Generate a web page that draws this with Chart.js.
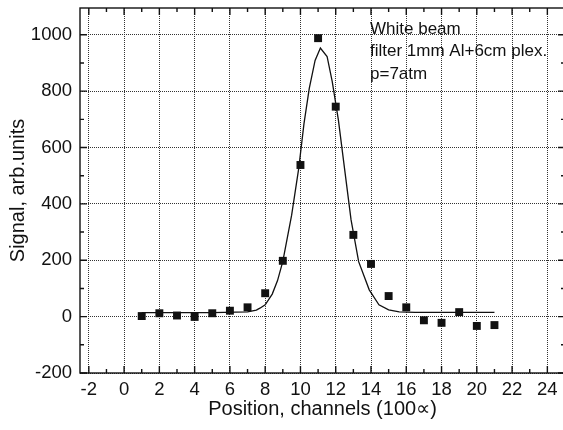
<!DOCTYPE html>
<html>
<head>
<meta charset="utf-8">
<script src="https://cdn.jsdelivr.net/npm/chart.js@4.4.1/dist/chart.umd.min.js"></script>
<style>
  html, body { margin: 0; padding: 0; background: #fff; overflow: hidden; width: 563px; height: 430px; }
  canvas { display: block; }
</style>
</head>
<body>
<canvas id="signalChart" width="565" height="430"></canvas>
<script>
// measured points (position in channels, signal)
var positions = [1, 2, 3, 4, 5, 6, 7, 8, 9, 10, 11, 12, 13, 14, 15, 16, 17, 18, 19, 20, 21];
var signal = [2, 12, 4, -1, 12, 21, 33, 83, 198, 538, 988, 745, 290, 187, 73, 33, -13, -22, 16, -33, -30];

// fitted curve
var fitX = [1, 3, 5, 7, 7.5, 7.7, 8, 8.4, 8.7, 9, 9.5, 9.9, 10.2, 10.5, 10.83, 11.13, 11.51, 11.8, 12.15, 12.5, 12.87, 13.3, 13.9, 14.45, 15, 15.6, 16.5, 18, 21];
var fitY = [14, 14, 14, 17, 23, 30, 42, 80, 128, 196, 360, 525, 685, 810, 909, 953, 923, 835, 698, 525, 343, 195, 95, 42, 24, 17, 15, 15, 15];

var xTicks = [-2, 0, 2, 4, 6, 8, 10, 12, 14, 16, 18, 20, 22, 24];
var yTicks = [-200, 0, 200, 400, 600, 800, 1000];

var notes = ["White beam", "filter 1mm Al+6cm plex.", "p=7atm"];

Chart.defaults.font.family = "'Liberation Sans', Arial, sans-serif";
Chart.defaults.color = "#111";

var measured = positions.map(function (p, i) { return { x: p, y: signal[i] }; });
var fitted = fitX.map(function (p, i) { return { x: p, y: fitY[i] }; });

// frame with inward ticks on all four sides + the note text
var frame = {
  id: "frame",
  afterDraw: function (chart) {
    var ctx = chart.ctx, a = chart.chartArea;
    var x = chart.scales.x, y = chart.scales.y;
    ctx.save();
    ctx.strokeStyle = "#111";
    ctx.lineWidth = 1.4;
    ctx.beginPath();
    for (var v = Math.ceil(x.min); v <= Math.floor(x.max); v++) {
      var px = x.getPixelForValue(v);
      var len = (v % 2 === 0) ? 7 : 4;
      ctx.moveTo(px, a.bottom); ctx.lineTo(px, a.bottom - len);
      ctx.moveTo(px, a.top); ctx.lineTo(px, a.top + len);
    }
    for (var w = -200; w <= y.max; w += 100) {
      var py = y.getPixelForValue(w);
      var l = (w % 200 === 0) ? 7 : 4;
      ctx.moveTo(a.left, py); ctx.lineTo(a.left + l, py);
      ctx.moveTo(a.right, py); ctx.lineTo(a.right - l, py);
    }
    ctx.stroke();
    ctx.strokeRect(a.left, a.top, a.right - a.left, a.bottom - a.top);

    ctx.fillStyle = "#111";
    ctx.font = "17px 'Liberation Sans', Arial, sans-serif";
    ctx.textBaseline = "alphabetic";
    for (var i = 0; i < notes.length; i++) {
      ctx.fillText(notes[i], 370, 33.5 + i * 22.5);
    }
    ctx.restore();
  }
};

function plain(v) { return String(v); }

new Chart(document.getElementById("signalChart"), {
  type: "scatter",
  data: {
    datasets: [{
      label: "Signal",
      data: measured,
      pointStyle: "rect",
      pointRadius: 5.6,
      pointBorderWidth: 0,
      backgroundColor: "#111",
      borderColor: "#111",
      showLine: false
    }, {
      label: "Fit",
      data: fitted,
      showLine: true,
      pointRadius: 0,
      borderColor: "#111",
      borderWidth: 1.3,
      tension: 0,
      fill: false
    }]
  },
  options: {
    responsive: false,
    animation: false,
    layout: { autoPadding: false, padding: { top: 8, right: 0, left: 0, bottom: 0 } },
    plugins: {
      legend: { display: false },
      tooltip: { enabled: false }
    },
    scales: {
      x: {
        type: "linear",
        min: -2.5,
        max: 25,
        afterFit: function (s) { s.height = 57; s.paddingLeft = 0; s.paddingRight = 0; },
        afterBuildTicks: function (s) { s.ticks = xTicks.map(function (v) { return { value: v }; }); },
        ticks: { font: { size: 18.5 }, padding: 6, maxRotation: 0, autoSkip: false, includeBounds: false, callback: plain },
        grid: { color: "#333", lineWidth: 1, drawTicks: false },
        border: { display: false, dash: [1, 1] },
        title: {
          display: true,
          text: "Position, channels (100\u221D)",
          font: { size: 20 },
          padding: { top: 0, bottom: 9 }
        }
      },
      y: {
        type: "linear",
        min: -200,
        max: 1095,
        afterFit: function (s) { s.width = 80; s.paddingTop = 0; s.paddingBottom = 0; },
        afterBuildTicks: function (s) { s.ticks = yTicks.map(function (v) { return { value: v }; }); },
        ticks: { font: { size: 18.5 }, padding: 8, autoSkip: false, includeBounds: false, callback: plain },
        grid: { color: "#333", lineWidth: 1, drawTicks: false },
        border: { display: false, dash: [1, 1] },
        title: {
          display: true,
          text: "Signal, arb.units",
          font: { size: 20 },
          padding: { top: 6, bottom: 0 }
        }
      }
    }
  },
  plugins: [frame]
});
</script>
</body>
</html>
